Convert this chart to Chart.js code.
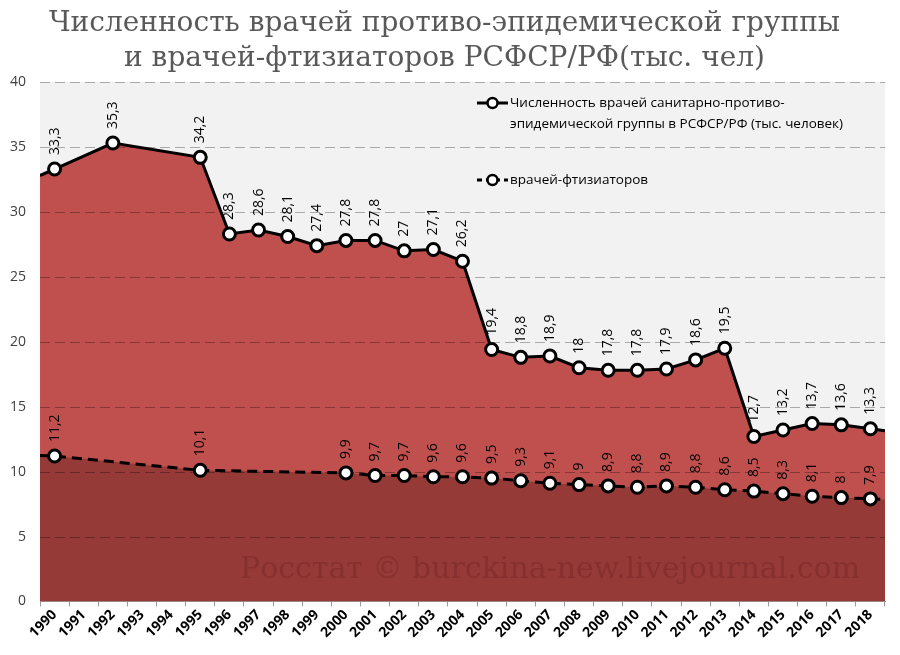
<!DOCTYPE html>
<html>
<head>
<meta charset="utf-8">
<script src="https://cdn.jsdelivr.net/npm/chart.js@4"></script>
<style>
  html, body { margin: 0; padding: 0; background: #fff; }
  #wrap { width: 900px; height: 655px; }
</style>
</head>
<body>
<div id="wrap"><canvas id="docChart"></canvas></div>
<script>
// years on the x axis
const years = ['1990','1991','1992','1993','1994','1995','1996','1997','1998','1999',
  '2000','2001','2002','2003','2004','2005','2006','2007','2008','2009',
  '2010','2011','2012','2013','2014','2015','2016','2017','2018'];

// sanitary-epidemiological doctors, thousand people (null = no data)
const epidValues = [33.3, null, 35.3, null, null, 34.2, 28.3, 28.6, 28.1, 27.4,
  27.8, 27.8, 27, 27.1, 26.2, 19.4, 18.8, 18.9, 18, 17.8,
  17.8, 17.9, 18.6, 19.5, 12.7, 13.2, 13.7, 13.6, 13.3];

// phthisiatricians, thousand people
const ftizValues = [11.2, null, null, null, null, 10.1, null, null, null, null,
  9.9, 9.7, 9.7, 9.6, 9.6, 9.5, 9.3, 9.1, 9, 8.9,
  8.8, 8.9, 8.8, 8.6, 8.5, 8.3, 8.1, 8, 7.9];

// where the lines/areas meet the left and right plot edges
const epidEdges = [32.8, 13.15];
const ftizEdges = [11.25, 7.85];

const yTicks = [0, 5, 10, 15, 20, 25, 30, 35, 40];

const epidLabel = 'Численность врачей санитарно-противо-эпидемической группы в РСФСР/РФ (тыс. человек)';
const ftizLabel = 'врачей-фтизиаторов';

// build points on a numeric axis: category i sits at i + 0.5
function toPoints(values, edges) {
  const pts = [{ x: 0, y: edges[0], edge: true }];
  values.forEach((v, i) => {
    if (v !== null) pts.push({ x: i + 0.5, y: v });
  });
  pts.push({ x: years.length, y: edges[1], edge: true });
  return pts;
}

const fmt = v => String(v).replace('.', ',');

const bgPlugin = {
  id: 'plotBg',
  beforeDraw(chart) {
    const { ctx, chartArea: a } = chart;
    ctx.save();
    ctx.fillStyle = '#f2f2f2';
    ctx.fillRect(a.left, a.top, a.right - a.left, a.bottom - a.top);
    ctx.restore();
  }
};

// dashed grid drawn over the filled areas but under the lines
const gridPlugin = {
  id: 'overGrid',
  afterDatasetDraw(chart, args) {
    if (args.index !== 1) return;
    const { ctx, chartArea: a, scales } = chart;
    ctx.save();
    ctx.strokeStyle = 'rgba(0,0,0,0.3)';
    ctx.lineWidth = 1;
    ctx.setLineDash([10, 5]);
    yTicks.forEach(t => {
      if (t === 0) return;
      const y = Math.round(scales.y.getPixelForValue(t)) + 0.5;
      ctx.beginPath();
      ctx.moveTo(a.left, y);
      ctx.lineTo(a.right, y);
      ctx.stroke();
    });
    ctx.restore();
  }
};

const labelPlugin = {
  id: 'valueLabels',
  afterDatasetsDraw(chart) {
    const { ctx } = chart;
    ctx.save();
    ctx.font = '14px "Open Sans", sans-serif';
    ctx.fillStyle = '#000';
    ctx.textAlign = 'left';
    ctx.textBaseline = 'middle';
    [2, 3].forEach(di => {
      const meta = chart.getDatasetMeta(di);
      const data = chart.data.datasets[di].data;
      meta.data.forEach((el, i) => {
        if (data[i].edge) return;
        ctx.save();
        ctx.translate(el.x, el.y - 14);
        ctx.rotate(-Math.PI / 2);
        ctx.fillText(fmt(data[i].y), 0, 0);
        ctx.restore();
      });
    });

    // watermark
    ctx.font = '30px "DejaVu Serif", serif';
    ctx.fillStyle = 'rgba(90,20,20,0.28)';
    ctx.textAlign = 'left';
    ctx.textBaseline = 'alphabetic';
    ctx.fillText('Росстат © burckina-new.livejournal.com', 240, 578);

    // legend inside the plot
    const items = [
      { y: 103, dash: [], lines: ['Численность врачей санитарно-противо-', 'эпидемической группы в РСФСР/РФ (тыс. человек)'] },
      { y: 180, dash: [5, 4], lines: [ftizLabel] }
    ];
    items.forEach(it => {
      ctx.strokeStyle = '#000';
      ctx.lineWidth = 3;
      ctx.setLineDash(it.dash);
      ctx.beginPath();
      ctx.moveTo(477, it.y);
      ctx.lineTo(508, it.y);
      ctx.stroke();
      ctx.setLineDash([]);
      ctx.beginPath();
      ctx.arc(492.5, it.y, 5, 0, Math.PI * 2);
      ctx.fillStyle = '#fff';
      ctx.fill();
      ctx.lineWidth = 2.5;
      ctx.stroke();
      ctx.fillStyle = '#000';
      ctx.font = '13.5px "Open Sans", sans-serif';
      ctx.textBaseline = 'middle';
      it.lines.forEach((s, k) => ctx.fillText(s, 510, it.y + k * 21));
    });
    ctx.restore();
  }
};

const pointR = c => (c.raw && c.raw.edge) ? 0 : 6;

new Chart(document.getElementById('docChart'), {
  type: 'line',
  data: {
    labels: years,
    datasets: [
      {
        label: 'epid area', data: toPoints(epidValues, epidEdges), xAxisID: 'xv',
        fill: 'origin', backgroundColor: '#c0504d', borderWidth: 0, pointRadius: 0,
        tension: 0, order: 5
      },
      {
        label: 'ftiz area', data: toPoints(ftizValues, ftizEdges), xAxisID: 'xv',
        fill: 'origin', backgroundColor: '#963a38', borderWidth: 0, pointRadius: 0,
        tension: 0, order: 4
      },
      {
        label: epidLabel, data: toPoints(epidValues, epidEdges), xAxisID: 'xv',
        fill: false, borderColor: '#000', borderWidth: 3, tension: 0,
        pointRadius: pointR, pointBackgroundColor: '#fff', pointBorderColor: '#000',
        pointBorderWidth: 3, order: 1
      },
      {
        label: ftizLabel, data: toPoints(ftizValues, ftizEdges), xAxisID: 'xv',
        fill: false, borderColor: '#000', borderWidth: 3, borderDash: [10, 6], tension: 0,
        pointRadius: pointR, pointBackgroundColor: '#fff', pointBorderColor: '#000',
        pointBorderWidth: 3, order: 0
      }
    ]
  },
  options: {
    responsive: true,
    maintainAspectRatio: false,
    animation: false,
    layout: { padding: { left: 4, right: 15, top: 2, bottom: 14 } },
    plugins: {
      legend: { display: false },
      tooltip: { enabled: false },
      title: {
        display: true,
        text: ['Численность врачей противо-эпидемической группы', 'и врачей-фтизиаторов РСФСР/РФ(тыс. чел)'],
        font: { family: '"DejaVu Serif", serif', size: 28, weight: 'normal', lineHeight: 1.25 },
        color: '#595959',
        padding: { top: 4, bottom: 6 }
      }
    },
    scales: {
      xv: {
        type: 'linear', display: false, min: 0, max: years.length
      },
      x: {
        type: 'category',
        offset: true,
        grid: { display: true, drawOnChartArea: false, drawTicks: true, tickLength: 5, color: '#999', offset: true },
        border: { display: true, color: '#999' },
        ticks: {
          autoSkip: false, maxRotation: 45, minRotation: 45,
          color: '#000', font: { family: '"Open Sans", sans-serif', size: 14, weight: 'bold' }, padding: 0
        }
      },
      y: {
        min: 0, max: 40,
        afterBuildTicks: ax => { ax.ticks = yTicks.map(v => ({ value: v })); },
        grid: { display: false },
        border: { display: false },
        ticks: { color: '#404040', font: { family: '"Open Sans", sans-serif', size: 14 }, padding: 6 }
      }
    }
  },
  plugins: [bgPlugin, gridPlugin, labelPlugin]
});
</script>
</body>
</html>
